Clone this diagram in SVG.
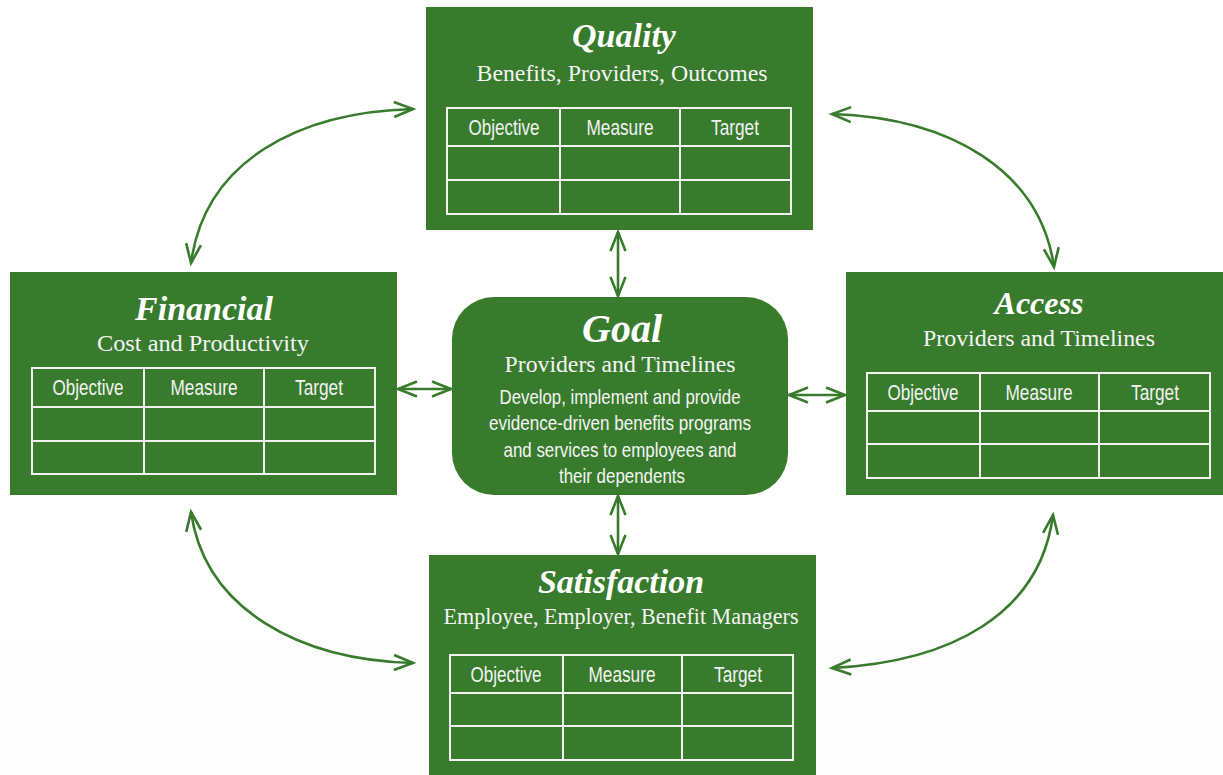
<svg xmlns="http://www.w3.org/2000/svg" width="1223" height="775" viewBox="0 0 1223 775">
  <defs>
    <marker id="head" viewBox="0 0 22 18" refX="20" refY="9" markerWidth="22" markerHeight="18" markerUnits="userSpaceOnUse" orient="auto-start-reverse" overflow="visible">
      <path d="M1,1.5 L20,9 L1,16.5" fill="none" stroke="#387b2d" stroke-width="2.6"/>
    </marker>
  </defs>
  <style>
    .box { fill: #387b2d; }
    .grid { fill: none; stroke: #f2f2f2; stroke-width: 2; }
    .title { font-family: "Liberation Serif", serif; font-weight: bold; font-style: italic; fill: #ffffff; text-anchor: middle; }
    .sub { font-family: "Liberation Serif", serif; font-size: 23.5px; fill: #f4f4f4; text-anchor: middle; }
    .cell { font-family: "Liberation Sans", sans-serif; font-size: 22px; fill: #f2f2f2; text-anchor: middle; }
    .body { font-family: "Liberation Sans", sans-serif; font-size: 21px; fill: #f4f4f4; text-anchor: middle; }
    .link { fill: none; stroke: #387b2d; stroke-width: 2.6; marker-start: url(#head); marker-end: url(#head); }
  </style>

  <rect x="0" y="0" width="1223" height="775" fill="#ffffff"/>
  <rect x="0" y="640" width="1223" height="135" fill="#fdfdfd"/>

  <!-- Quality -->
  <g id="quality">
    <rect class="box" x="426" y="7" width="387" height="223"/>
    <text class="title" x="624" y="47" font-size="34">Quality</text>
    <text class="sub" x="622" y="81" textLength="291" lengthAdjust="spacingAndGlyphs">Benefits, Providers, Outcomes</text>
    <path class="grid" d="M447,108 H791 V214 H447 Z M447,146 H791 M447,180 H791 M560,108 V214 M680,108 V214"/>
    <text class="cell" x="504" y="135" textLength="71" lengthAdjust="spacingAndGlyphs">Objective</text>
    <text class="cell" x="620" y="135" textLength="67" lengthAdjust="spacingAndGlyphs">Measure</text>
    <text class="cell" x="735" y="135" textLength="48" lengthAdjust="spacingAndGlyphs">Target</text>
  </g>

  <!-- Financial -->
  <g id="financial">
    <rect class="box" x="10" y="272" width="387" height="223"/>
    <text class="title" x="204" y="320" font-size="34">Financial</text>
    <text class="sub" x="203" y="351" textLength="212" lengthAdjust="spacingAndGlyphs">Cost and Productivity</text>
    <path class="grid" d="M32,368 H375 V474 H32 Z M32,407 H375 M32,441 H375 M144,368 V474 M264,368 V474"/>
    <text class="cell" x="88" y="395" textLength="71" lengthAdjust="spacingAndGlyphs">Objective</text>
    <text class="cell" x="204" y="395" textLength="67" lengthAdjust="spacingAndGlyphs">Measure</text>
    <text class="cell" x="319" y="395" textLength="48" lengthAdjust="spacingAndGlyphs">Target</text>
  </g>

  <!-- Access -->
  <g id="access">
    <rect class="box" x="846" y="272" width="377" height="223"/>
    <text class="title" x="1039" y="314" font-size="32">Access</text>
    <text class="sub" x="1039" y="346" textLength="232" lengthAdjust="spacingAndGlyphs">Providers and Timelines</text>
    <path class="grid" d="M867,373 H1210 V478 H867 Z M867,411 H1210 M867,444 H1210 M980,373 V478 M1099,373 V478"/>
    <text class="cell" x="923" y="400" textLength="71" lengthAdjust="spacingAndGlyphs">Objective</text>
    <text class="cell" x="1039" y="400" textLength="67" lengthAdjust="spacingAndGlyphs">Measure</text>
    <text class="cell" x="1155" y="400" textLength="48" lengthAdjust="spacingAndGlyphs">Target</text>
  </g>

  <!-- Satisfaction -->
  <g id="satisfaction">
    <rect class="box" x="429" y="555" width="387" height="220"/>
    <text class="title" x="621" y="593" font-size="34">Satisfaction</text>
    <text class="sub" x="621" y="624" textLength="355" lengthAdjust="spacingAndGlyphs">Employee, Employer, Benefit Managers</text>
    <path class="grid" d="M450,655 H793 V760 H450 Z M450,693 H793 M450,726 H793 M563,655 V760 M682,655 V760"/>
    <text class="cell" x="506" y="682" textLength="71" lengthAdjust="spacingAndGlyphs">Objective</text>
    <text class="cell" x="622" y="682" textLength="67" lengthAdjust="spacingAndGlyphs">Measure</text>
    <text class="cell" x="738" y="682" textLength="48" lengthAdjust="spacingAndGlyphs">Target</text>
  </g>

  <!-- Goal -->
  <g id="goal">
    <rect class="box" x="452" y="297" width="336" height="198" rx="42" ry="42"/>
    <text class="title" x="622" y="342" font-size="40">Goal</text>
    <text class="sub" x="620" y="372" textLength="231" lengthAdjust="spacingAndGlyphs">Providers and Timelines</text>
    <text class="body" x="620" y="404" textLength="241" lengthAdjust="spacingAndGlyphs">Develop, implement and provide</text>
    <text class="body" x="620" y="430" textLength="262" lengthAdjust="spacingAndGlyphs">evidence-driven benefits programs</text>
    <text class="body" x="620" y="457" textLength="233" lengthAdjust="spacingAndGlyphs">and services to employees and</text>
    <text class="body" x="622" y="483" textLength="126" lengthAdjust="spacingAndGlyphs">their dependents</text>
  </g>

  <!-- Connectors -->
  <g id="connectors">
    <path class="link" d="M618,232 L618,296"/>
    <path class="link" d="M618,496 L618,554"/>
    <path class="link" d="M398,389 L451,389"/>
    <path class="link" d="M789,395 L845,395"/>
    <path class="link" d="M191,263 C205,160 300,112 413,109"/>
    <path class="link" d="M832,114 C950,118 1040,170 1054,267"/>
    <path class="link" d="M191,512 C205,610 300,660 413,663"/>
    <path class="link" d="M1053,515 C1040,615 950,662 832,668"/>
  </g>
</svg>
